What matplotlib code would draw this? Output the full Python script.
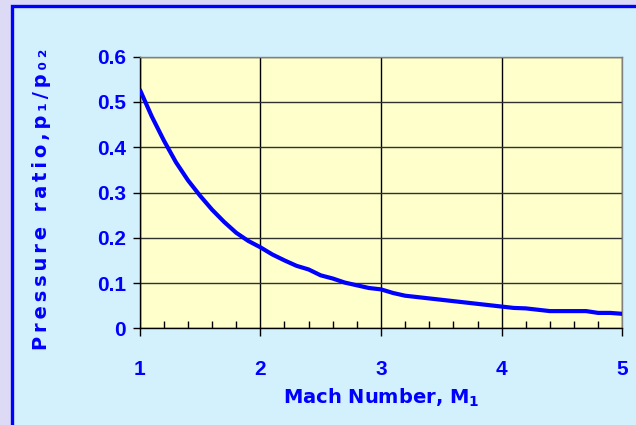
import matplotlib.pyplot as plt
from matplotlib.patches import Rectangle
from matplotlib.ticker import MultipleLocator

# Mach number and pressure ratio p1/p02
mach = [1.0, 1.1, 1.2, 1.3, 1.4, 1.5, 1.6, 1.7, 1.8, 1.9,
        2.0, 2.1, 2.2, 2.3, 2.4, 2.5, 2.6, 2.7, 2.8, 2.9,
        3.0, 3.1, 3.2, 3.3, 3.4, 3.5, 3.6, 3.7, 3.8, 3.9,
        4.0, 4.1, 4.2, 4.3, 4.4, 4.5, 4.6, 4.7, 4.8, 4.9, 5.0]
ratio = [0.528, 0.468, 0.415, 0.367, 0.327, 0.293, 0.262, 0.235, 0.211, 0.193,
         0.179, 0.163, 0.150, 0.138, 0.130, 0.117, 0.110, 0.101, 0.095, 0.089,
         0.086, 0.078, 0.072, 0.069, 0.066, 0.063, 0.060, 0.057, 0.054, 0.051,
         0.048, 0.045, 0.044, 0.041, 0.038, 0.038, 0.038, 0.038, 0.034, 0.034, 0.032]

x_ticks = [1, 2, 3, 4, 5]
y_ticks = [0, 0.1, 0.2, 0.3, 0.4, 0.5, 0.6]

BLUE = '#0000ff'
TICK_FONT = ['Liberation Sans Narrow', 'Liberation Sans', 'DejaVu Sans']
plt.rcParams['font.family'] = TICK_FONT

fig = plt.figure(figsize=(6.36, 4.25), dpi=100)
fig.patch.set_facecolor('#dcdaf5')

# inner light-cyan panel with a blue frame running off the right/bottom edge
W, H = 636, 425
fig.patches.append(Rectangle((12 / W, -0.1), 1.1, 1 - 6 / H + 0.1,
                             transform=fig.transFigure, facecolor='#d3f1fc',
                             edgecolor=BLUE, linewidth=2.4, zorder=-5))

ax = fig.add_axes([139.7 / W, 1 - 328.3 / H, (622.3 - 139.7) / W, (328.3 - 56.7) / H])
ax.set_zorder(2)
ax.set_facecolor('#ffffcc')

ax.plot(mach, ratio, color=BLUE, lw=3.0, solid_capstyle='butt', zorder=3)

ax.set_xlim(1, 5)
ax.set_ylim(0, 0.6)
ax.set_xticks(x_ticks)
ax.set_yticks(y_ticks)
ax.set_yticklabels(['0' if v == 0 else f'{v:.1f}' for v in y_ticks])
ax.xaxis.set_minor_locator(MultipleLocator(0.2))

ax.grid(True, which='major', axis='x', color='black', lw=1.0)
ax.grid(True, which='major', axis='y', color='#303030', lw=1.0)
ax.set_axisbelow(True)

for side in ('top', 'right'):
    ax.spines[side].set_color('#808080')
    ax.spines[side].set_linewidth(1.0)
for side in ('left', 'bottom'):
    ax.spines[side].set_color('black')
    ax.spines[side].set_linewidth(1.0)

ax.tick_params(axis='x', which='major', direction='out', length=6, width=1,
               color='black', pad=17)
ax.tick_params(axis='x', which='minor', direction='in', length=5, width=1,
               color='black')
ax.tick_params(axis='y', which='major', direction='out', length=5, width=1,
               color='black', pad=5)
ax.tick_params(axis='both', which='major', labelsize=15, labelcolor=BLUE)

for lab in ax.get_xticklabels() + ax.get_yticklabels():
    lab.set_fontweight('bold')

fig.text(381 / W, 1 - 398 / H, 'Mach Number, M$_\\mathbf{1}$', ha='center', va='center',
         fontsize=14, fontweight='bold', color=BLUE, family='DejaVu Sans')

ylabel = 'Pressure ratio,p₁/p₀₂'
fig.text(42 / W, 1 - 199 / H, '\u2009'.join(ylabel),
         rotation=90, ha='center', va='center',
         fontsize=14, fontweight='bold', color=BLUE, family='DejaVu Sans')

fig.savefig('out.png', dpi=100, facecolor=fig.get_facecolor())
